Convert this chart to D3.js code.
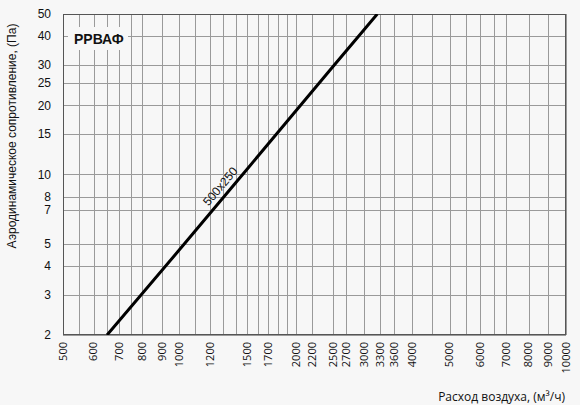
<!DOCTYPE html>
<html><head><meta charset="utf-8">
<script src="https://cdn.jsdelivr.net/npm/d3@7/dist/d3.min.js"></script>
<style>
html,body{margin:0;padding:0;background:#f7f7f7;}
svg{display:block;}
</style></head>
<body>
<svg id="chart" width="580" height="405"></svg>
<script>
// ---- data ----
const title = "РРВАФ";
const seriesName = "500x250";
const flowValues = [650, 1000, 1500, 2000, 2500, 3000, 3250];      // м³/ч
const pressureValues = [2, 4.7, 10.6, 18.9, 29.6, 42.6, 50];       // Па
const xGridValues = [500,550,600,650,700,750,800,900,1000,1100,1200,1300,1400,1500,1600,1700,1800,1900,2000,2200,2500,2700,3000,3300,3600,4000,4500,5000,5500,6000,6500,7000,8000,9000,10000];
const xTickLabels = [500,600,700,800,900,1000,1200,1500,1700,2000,2200,2500,2700,3000,3300,3600,4000,5000,6000,7000,8000,9000,10000];
const yTickLabels = [2,3,4,5,7,8,10,15,20,25,30,40,50];
const xTitle = "Расход воздуха, (м³/ч)";
const yTitle = "Аэродинамическое сопротивление, (Па)";

// ---- layout ----
const L = 63, T = 14, W = 503, H = 321;
const svg = d3.select("#chart");
svg.append("rect").attr("width",580).attr("height",405).attr("fill","#f7f7f7");

const x = d3.scaleLog().domain([500,10000]).range([L, L+W]);
const y = d3.scaleLog().domain([2,50]).range([T+H, T]);

const g = svg.append("g");
// grid
g.selectAll("line.vx").data(xGridValues).enter().append("line")
  .attr("x1",d=>Math.round(x(d))+0.5).attr("x2",d=>Math.round(x(d))+0.5)
  .attr("y1",T).attr("y2",T+H).attr("stroke","#9a9a9a").attr("stroke-width",1);
g.selectAll("line.hy").data(yTickLabels).enter().append("line")
  .attr("y1",d=>Math.round(y(d))+0.5).attr("y2",d=>Math.round(y(d))+0.5)
  .attr("x1",L).attr("x2",L+W).attr("stroke","#9a9a9a").attr("stroke-width",1);

// title box
svg.append("rect").attr("x",68).attr("y",27).attr("width",60).attr("height",23).attr("fill","#f7f7f7");
svg.append("text").attr("x",74).attr("y",44).text(title)
  .attr("font-family","Liberation Sans, Arial, sans-serif").attr("font-weight","bold")
  .attr("font-size",14).attr("fill","#111");

// border
svg.append("rect").attr("x",L+0.5).attr("y",T+0.5).attr("width",W-1).attr("height",H-1)
  .attr("fill","none").attr("stroke","#555").attr("stroke-width",1);

// line
svg.append("defs").append("clipPath").attr("id","clip")
  .append("rect").attr("x",L).attr("y",T).attr("width",W).attr("height",H);
const pts = flowValues.map((f,i)=>[f,pressureValues[i]]);
const lineGen = d3.line().x(d=>x(d[0])).y(d=>y(d[1]));
svg.append("path").datum(pts).attr("d",lineGen).attr("fill","none")
  .attr("stroke","#000").attr("stroke-width",3).attr("clip-path","url(#clip)");

// series label along the line
const p0 = [x(pts[0][0]), y(pts[0][1])], p1 = [x(pts[pts.length-1][0]), y(pts[pts.length-1][1])];
const ang = Math.atan2(p1[1]-p0[1], p1[0]-p0[0]) * 180/Math.PI;
const labelFlow = 1330;
const t = (Math.log(labelFlow)-Math.log(pts[0][0]))/(Math.log(pts[pts.length-1][0])-Math.log(pts[0][0]));
const lx = p0[0] + t*(p1[0]-p0[0]), ly = p0[1] + t*(p1[1]-p0[1]);
svg.append("text").attr("transform",`translate(${lx},${ly}) rotate(${ang})`)
  .attr("y",-5).attr("text-anchor","middle").text(seriesName)
  .attr("font-family","Liberation Sans, Arial, sans-serif").attr("font-size",12).attr("fill","#111");

// y tick labels
svg.selectAll("text.yt").data(yTickLabels).enter().append("text")
  .attr("x",51).attr("y",d=>y(d)).attr("dy","0.35em").attr("text-anchor","end")
  .text(d=>d).attr("font-family","Liberation Sans, Arial, sans-serif").attr("font-size",12).attr("fill","#111");

// x tick labels
svg.selectAll("text.xt").data(xTickLabels).enter().append("text")
  .attr("transform",d=>`translate(${x(d)},342) rotate(-90)`)
  .attr("dy","0.35em").attr("text-anchor","end")
  .text(d=>d).attr("font-family","Open Sans, sans-serif").attr("font-size",11).attr("fill","#111");

// axis titles
svg.append("text").attr("x",565).attr("y",401).attr("text-anchor","end").text(xTitle)
  .attr("font-family","Open Sans, sans-serif").attr("font-size",12).attr("fill","#111");
svg.append("text").attr("transform","translate(16,136) rotate(-90)").attr("text-anchor","middle").text(yTitle)
  .attr("font-family","Liberation Sans, Arial, sans-serif").attr("font-size",12).attr("fill","#111");
</script>
</body></html>
